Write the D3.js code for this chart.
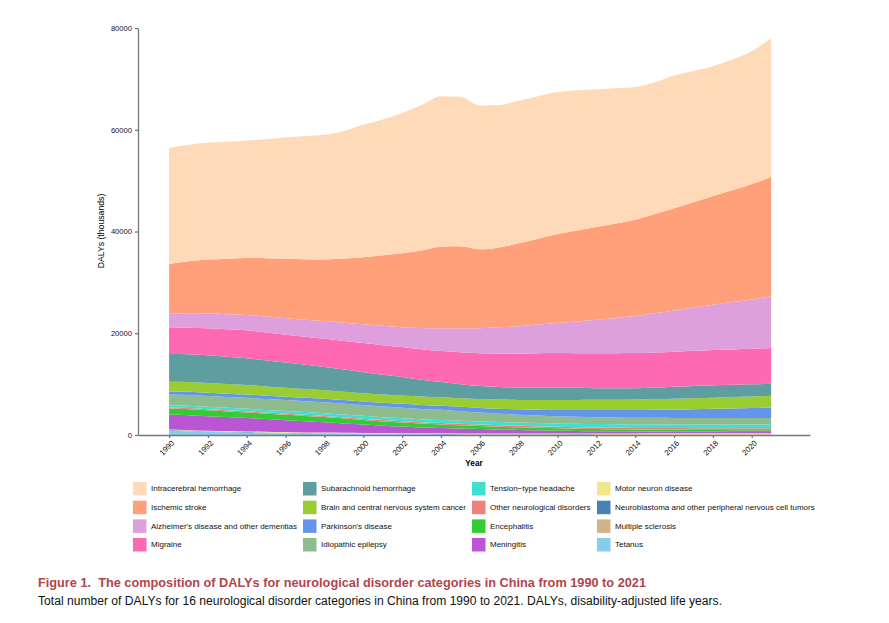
<!DOCTYPE html>
<html>
<head>
<meta charset="utf-8">
<script src="https://cdn.jsdelivr.net/npm/d3@7"></script>
<style>
  body { margin: 0; background: #fff; }
  svg { font-family: "Liberation Sans", Arial, sans-serif; display: block; }
</style>
</head>
<body>
<div id="main"></div>
<script>
const w = 889, h = 623

// data (thousands of DALYs)
const years = [1990,1991,1992,1993,1994,1995,1996,1997,1998,1999,2000,2001,2002,2003,2004,2005,2006,2007,2008,2009,2010,2011,2012,2013,2014,2015,2016,2017,2018,2019,2020,2021]
const xTicks = [1990,1992,1994,1996,1998,2000,2002,2004,2006,2008,2010,2012,2014,2016,2018,2020]
const yTicks = [0,20000,40000,60000,80000]

const tetanus = [850,740,640,550,470,400,340,285,235,195,160,130,105,85,70,58,48,40,34,29,25,22,19,17,15,13,12,11,10,9,8,8]
const multipleSclerosis = [40,40,41,41,42,42,43,43,44,44,45,45,46,46,47,47,48,48,49,50,50,51,52,52,53,54,55,56,57,58,59,60]
const neuroblastoma = [70,69,68,67,66,65,64,63,62,61,60,59,58,57,56,55,54,53,52,52,51,51,50,50,49,49,48,48,47,47,46,46]
const motorNeuron = [100,103,106,109,112,116,120,124,128,132,136,140,144,148,152,156,160,165,170,175,180,185,190,195,200,205,210,214,218,222,226,230]
const meningitis = [2950,2950,2850,2750,2650,2500,2350,2200,2050,1850,1650,1450,1300,1150,1050,950,850,750,680,610,550,500,450,410,380,350,330,310,290,275,260,250]
const encephalitis = [1200,1180,1150,1120,1100,1070,1040,1020,1000,950,900,850,800,750,700,650,600,560,520,485,450,430,410,395,380,370,360,350,340,335,325,320]
const otherNeuro = [200,205,210,215,220,225,230,235,240,245,250,255,260,265,270,275,280,285,290,295,300,305,310,315,320,330,340,350,360,370,380,390]
const tension = [460,470,480,490,500,510,520,530,540,550,560,570,580,590,600,610,620,630,640,650,660,670,680,690,700,710,720,730,740,755,770,790]
const epilepsy = [2100,2120,2140,2150,2150,2150,2150,2150,2150,2130,2120,2100,2080,2040,2000,1880,1750,1650,1550,1480,1400,1370,1350,1320,1300,1290,1280,1270,1260,1255,1250,1250]
const parkinson = [600,610,620,630,640,650,660,675,690,705,720,740,760,780,800,850,900,980,1060,1150,1250,1320,1400,1460,1520,1590,1660,1740,1820,1900,1980,2050]
const brainCancer = [1900,1920,1920,1900,1870,1820,1760,1700,1650,1630,1620,1620,1630,1640,1660,1700,1750,1800,1850,1900,1950,1980,2000,2030,2060,2100,2130,2160,2200,2230,2260,2300]
const subarachnoid = [5450,5480,5450,5380,5280,5120,4950,4780,4600,4370,4130,3880,3640,3300,3000,2750,2550,2480,2450,2450,2450,2380,2300,2250,2220,2260,2320,2380,2430,2420,2410,2400]
const migraine = [5100,5200,5300,5400,5500,5500,5500,5500,5520,5620,5720,5820,5900,6000,6100,6300,6480,6580,6650,6720,6780,6820,6850,6880,6900,6910,6920,6930,6930,6950,6980,7000]
const alzheimer = [2800,2850,2900,2950,3000,3120,3240,3360,3490,3590,3690,3800,3900,4200,4500,4700,4900,5150,5400,5650,5900,6250,6600,6950,7300,7700,8100,8500,8900,9300,9700,10200]
const ischemic = [9800,10200,10600,10900,11200,11450,11700,11900,12100,12600,13200,13850,14500,15200,16000,16100,15500,15700,16300,16900,17500,17850,18200,18550,18900,19500,20100,20700,21400,22000,22700,23400]
const intracerebral = [22800,22900,23000,23000,23100,23400,23800,24200,24500,25100,26000,26700,27600,28600,29600,29400,28300,28000,28000,28000,27900,27600,27100,26600,26100,25900,26100,25800,25500,25700,26100,27300]

// stacking order, bottom to top
const series = [
  {name: 'Tetanus', values: tetanus, color: '#87CEEB'},
  {name: 'Multiple sclerosis', values: multipleSclerosis, color: '#D2B48C'},
  {name: 'Neuroblastoma and other peripheral nervous cell tumors', values: neuroblastoma, color: '#4682B4'},
  {name: 'Motor neuron disease', values: motorNeuron, color: '#F0E68C'},
  {name: 'Meningitis', values: meningitis, color: '#BA55D3'},
  {name: 'Encephalitis', values: encephalitis, color: '#32CD32'},
  {name: 'Other neurological disorders', values: otherNeuro, color: '#F08080'},
  {name: 'Tension\u2212type headache', values: tension, color: '#40E0D0'},
  {name: 'Idiopathic epilepsy', values: epilepsy, color: '#8FBC8F'},
  {name: "Parkinson's disease", values: parkinson, color: '#6495ED'},
  {name: 'Brain and central nervous system cancer', values: brainCancer, color: '#9ACD32'},
  {name: 'Subarachnoid hemorrhage', values: subarachnoid, color: '#5F9EA0'},
  {name: 'Migraine', values: migraine, color: '#FF69B4'},
  {name: "Alzheimer's disease and other dementias", values: alzheimer, color: '#DDA0DD'},
  {name: 'Ischemic stroke', values: ischemic, color: '#FFA07A'},
  {name: 'Intracerebral hemorrhage', values: intracerebral, color: '#FFDAB9'}
]

// legend reads column by column, top of stack first
const legendOrder = series.slice().reverse()

const table = years.map((y, i) => {
  const row = {year: y}
  series.forEach(s => row[s.name] = s.values[i])
  return row
})

const svg = d3.select('#main')
            .append('svg')
            .attr('width', w)
            .attr('height', h)

const xScale = d3.scaleLinear()
                .domain([1988.4, 2023])
                .range([138, 810])

const yScale = d3.scaleLinear()
                .domain([0, 80000])
                .range([435, 28])

const stack = d3.stack().keys(series.map(s => s.name))
const layers = stack(table)

const area = d3.area()
              .x(d => xScale(d.data.year))
              .y0(d => yScale(d[0]))
              .y1(d => yScale(d[1]))
              .curve(d3.curveMonotoneX)

svg.append('g')
    .selectAll('path')
    .data(layers)
    .enter()
    .append('path')
    .attr('d', area)
    .attr('fill', (d, i) => series[i].color)
    .attr('stroke', 'none')

// axes
const xAxis = d3.axisBottom(xScale)
                .tickValues(xTicks)
                .tickFormat(d3.format('d'))
                .tickSize(3)
                .tickSizeOuter(0)

const gx = svg.append('g')
    .attr('transform', 'translate(0,435)')
    .call(xAxis)
gx.selectAll('text')
    .attr('transform', 'rotate(-45)')
    .attr('text-anchor', 'end')
    .attr('dx', '-0.3em')
    .attr('dy', '0.5em')
    .style('font-size', '7.8px')
    .style('fill', '#111')

const yAxis = d3.axisLeft(yScale)
                .tickValues(yTicks)
                .tickFormat(d3.format('d'))
                .tickSize(3)
                .tickSizeOuter(0)

const gy = svg.append('g')
    .attr('transform', 'translate(138,0)')
    .call(yAxis)
gy.selectAll('text')
    .style('font-size', '7.6px')
    .style('fill', '#111')

svg.selectAll('.domain, .tick line')
    .attr('stroke', '#777')
    .attr('stroke-width', 1.3)

svg.append('text')
    .text('Year')
    .attr('x', 474)
    .attr('y', 466)
    .attr('text-anchor', 'middle')
    .style('font-size', '8.2px')
    .style('font-weight', 'bold')

svg.append('text')
    .text('DALYs (thousands)')
    .attr('transform', 'translate(104,231) rotate(-90)')
    .attr('text-anchor', 'middle')
    .style('font-size', '8.7px')

// legend
const legend = svg.append('g').attr('id', 'legend')
const colX = [133, 303, 472, 597]
const rowY = [482, 500.7, 519.4, 538]

legendOrder.forEach((s, i) => {
  const col = Math.floor(i / 4), row = i % 4
  legend.append('rect')
      .attr('x', colX[col])
      .attr('y', rowY[row])
      .attr('width', 13.5)
      .attr('height', 13.5)
      .attr('fill', s.color)
  legend.append('text')
      .attr('x', colX[col] + 18)
      .attr('y', rowY[row] + 7)
      .attr('dominant-baseline', 'middle')
      .text(s.name)
      .style('font-size', '8px')
      .style('fill', '#111')
})

// caption
svg.append('text')
    .text('Figure 1.\u00a0 The composition of DALYs for neurological disorder categories in China from 1990 to 2021')
    .attr('x', 38)
    .attr('y', 587)
    .attr('textLength', 608)
    .attr('lengthAdjust', 'spacingAndGlyphs')
    .style('font-size', '13px')
    .style('font-weight', 'bold')
    .style('fill', '#b0454c')

svg.append('text')
    .text('Total number of DALYs for 16 neurological disorder categories in China from 1990 to 2021. DALYs, disability-adjusted life years.')
    .attr('x', 38)
    .attr('y', 605)
    .attr('textLength', 684)
    .attr('lengthAdjust', 'spacingAndGlyphs')
    .style('font-size', '12px')
    .style('fill', '#111')
</script>
</body>
</html>
